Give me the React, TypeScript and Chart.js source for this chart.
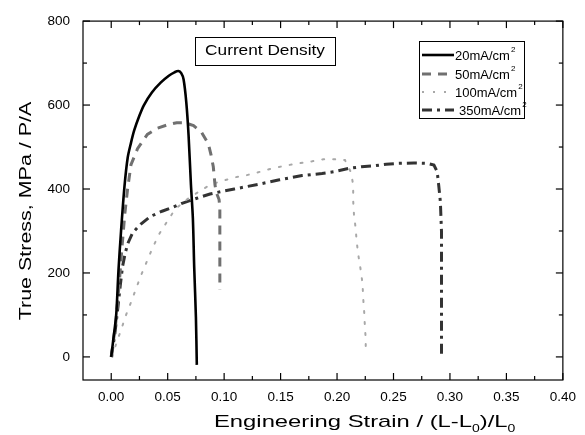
import React, { useEffect, useRef } from 'react';
import { Chart, registerables } from 'chart.js';

Chart.register(...registerables);

// ---- data ----
const strain20 = [0, 0.002, 0.0044, 0.0064, 0.0087, 0.0117, 0.0146, 0.0175, 0.0204, 0.025, 0.029, 0.036, 0.044, 0.051, 0.056, 0.0595, 0.062, 0.0641, 0.0665, 0.0685, 0.0706, 0.0723, 0.0735, 0.075, 0.0758];
const stress20 = [0, 45, 100, 205, 300, 405, 475, 510, 540, 575, 600, 630, 654, 670, 678, 681, 676, 661, 606, 528, 410, 331, 213, 95, -19];

const strain50 = [0, 0.004, 0.0073, 0.0095, 0.012, 0.0145, 0.0175, 0.0233, 0.032, 0.041, 0.05, 0.058, 0.065, 0.0729, 0.08, 0.086, 0.0885, 0.0904, 0.0919, 0.093, 0.0955, 0.0962, 0.0962];
const stress50 = [0, 80, 182, 260, 340, 400, 458, 496, 530, 545, 553, 558, 558, 551, 535, 508, 480, 453, 410, 392, 375, 355, 160];

const strain100 = [0.001, 0.0044, 0.0087, 0.013, 0.0175, 0.0219, 0.0262, 0.0315, 0.0365, 0.0423, 0.0496, 0.0569, 0.0685, 0.0785, 0.0875, 0.099, 0.11, 0.12, 0.129, 0.137, 0.146, 0.157, 0.166, 0.178, 0.188, 0.197, 0.207, 0.2123, 0.2143, 0.2143, 0.215, 0.2165, 0.2174, 0.219, 0.2209, 0.2226, 0.2231, 0.224, 0.2246, 0.2254, 0.2254];
const stress100 = [0, 32, 64, 99, 130, 162, 193, 227, 259, 292, 323, 353, 378, 395, 410, 420, 428, 433, 439, 445, 451, 457, 461, 466, 471, 471, 469, 440, 410, 372, 339, 306, 274, 240, 208, 174, 142, 109, 76, 42, 13];

const strain350 = [0, 0.003, 0.006, 0.008, 0.01, 0.0125, 0.015, 0.019, 0.026, 0.035, 0.045, 0.054, 0.0627, 0.0758, 0.0875, 0.099, 0.109, 0.13, 0.149, 0.169, 0.1867, 0.197, 0.21, 0.2216, 0.2318, 0.2435, 0.2537, 0.268, 0.28, 0.2858, 0.2887, 0.29, 0.2915, 0.2925, 0.2925];
const stress350 = [0, 50, 120, 170, 215, 249, 272, 296, 316, 335, 347, 356, 366, 378, 388, 395, 400, 411, 422, 432, 437, 441, 449, 453, 455, 459, 461, 462, 461, 457, 441, 410, 370, 300, 5];

const seriesLabels = ['20mA/cm', '50mA/cm', '100mA/cm', '350mA/cm'];
const xTickValues = [0, 0.05, 0.1, 0.15, 0.2, 0.25, 0.3, 0.35, 0.4];
const yTickValues = [0, 200, 400, 600, 800];
const xMinorTicks = [0.025, 0.075, 0.125, 0.175, 0.225, 0.275, 0.325, 0.375];
const yMinorTicks = [100, 300, 500, 700];

const FONT = '"Liberation Sans", Arial, sans-serif';

const styles = [
  { color: '#000000', width: 2.6, dash: [] as number[], tension: 0.3 },
  { color: '#707070', width: 3, dash: [9, 7], tension: 0 },
  { color: '#a8a8a8', width: 2, dash: [2, 9], tension: 0 },
  { color: '#333333', width: 3, dash: [10, 5, 3, 5], tension: 0 },
];

function pts(xs: number[], ys: number[]) {
  return xs.map((x, i) => ({ x, y: ys[i] }));
}

const decorPlugin = {
  id: 'decor',
  afterDraw(chart: any) {
    const ctx = chart.ctx as CanvasRenderingContext2D;
    const { left, right, top, bottom } = chart.chartArea;
    const xs = chart.scales.x;
    const ys = chart.scales.y;
    ctx.save();
    ctx.strokeStyle = '#000';
    ctx.lineWidth = 1.2;
    ctx.setLineDash([]);
    ctx.strokeRect(left, top, right - left, bottom - top);

    // inward ticks
    const tick = (x1: number, y1: number, x2: number, y2: number) => {
      ctx.beginPath();
      ctx.moveTo(x1, y1);
      ctx.lineTo(x2, y2);
      ctx.stroke();
    };
    const MAJ = 7, MIN = 4;
    xTickValues.forEach((v) => {
      const px = xs.getPixelForValue(v);
      tick(px, bottom, px, bottom - MAJ);
      tick(px, top, px, top + MAJ);
    });
    xMinorTicks.forEach((v) => {
      const px = xs.getPixelForValue(v);
      tick(px, bottom, px, bottom - MIN);
      tick(px, top, px, top + MIN);
    });
    yTickValues.forEach((v) => {
      const py = ys.getPixelForValue(v);
      tick(left, py, left + MAJ, py);
      tick(right, py, right - MAJ, py);
    });
    yMinorTicks.forEach((v) => {
      const py = ys.getPixelForValue(v);
      tick(left, py, left + MIN, py);
      tick(right, py, right - MIN, py);
    });

    // title box
    ctx.fillStyle = '#fff';
    ctx.fillRect(195, 37, 140, 28);
    ctx.lineWidth = 1;
    ctx.strokeRect(195.5, 37.5, 140, 28);
    ctx.fillStyle = '#000';
    ctx.save();
    ctx.translate(265, 51);
    ctx.scale(1.15, 1);
    ctx.font = `15px ${FONT}`;
    ctx.textAlign = 'center';
    ctx.textBaseline = 'middle';
    ctx.fillText('Current Density', 0, 0);
    ctx.restore();

    // legend box
    ctx.fillStyle = '#fff';
    ctx.fillRect(419, 41, 105, 77);
    ctx.strokeRect(419.5, 41.5, 105, 77);
    const rowsY = [55, 74, 92, 110];
    seriesLabels.forEach((lab, i) => {
      const s = styles[i];
      const y = rowsY[i];
      ctx.strokeStyle = s.color;
      ctx.lineWidth = s.width;
      ctx.setLineDash(s.dash);
      ctx.beginPath();
      ctx.moveTo(422, y);
      ctx.lineTo(454, y);
      ctx.stroke();
      ctx.setLineDash([]);
      ctx.fillStyle = '#000';
      ctx.font = `13px ${FONT}`;
      ctx.textAlign = 'left';
      ctx.textBaseline = 'middle';
      const tx = i === 3 ? 459 : 455;
      ctx.fillText(lab, tx, y + 1);
      const w = ctx.measureText(lab).width;
      ctx.font = `8px ${FONT}`;
      ctx.fillText('2', tx + w + 1, y - 5);
    });

    // x axis title (horizontally stretched like the source)
    ctx.fillStyle = '#000';
    ctx.save();
    ctx.translate(214, 427);
    ctx.scale(1.4, 1);
    ctx.textAlign = 'left';
    ctx.textBaseline = 'alphabetic';
    const parts: [string, boolean][] = [
      ['Engineering Strain / (L-L', false],
      ['0', true],
      [')/L', false],
      ['0', true],
    ];
    let cx = 0;
    parts.forEach(([t, sub]) => {
      ctx.font = sub ? `10px ${FONT}` : `17px ${FONT}`;
      ctx.fillText(t, cx, sub ? 5 : 0);
      cx += ctx.measureText(t).width;
    });
    ctx.restore();

    // y axis title
    ctx.save();
    ctx.translate(31, 211);
    ctx.rotate(-Math.PI / 2);
    ctx.scale(1.3, 1);
    ctx.font = `16.5px ${FONT}`;
    ctx.textAlign = 'center';
    ctx.textBaseline = 'alphabetic';
    ctx.fillText('True Stress, MPa / P/A', 0, 0);
    ctx.restore();

    ctx.restore();
  },
};

export default function App() {
  const ref = useRef<HTMLCanvasElement | null>(null);
  useEffect(() => {
    if (!ref.current) return;
    const data = [
      pts(strain20, stress20),
      pts(strain50, stress50),
      pts(strain100, stress100),
      pts(strain350, stress350),
    ];
    const chart = new Chart(ref.current, {
      type: 'scatter',
      data: {
        datasets: data.map((d, i) => ({
          label: seriesLabels[i],
          data: d,
          showLine: true,
          borderColor: styles[i].color,
          borderWidth: styles[i].width,
          borderDash: styles[i].dash,
          borderCapStyle: i === 2 ? 'round' : 'butt',
          pointRadius: 0,
          tension: styles[i].tension,
          fill: false,
        })) as any,
      },
      options: {
        animation: false,
        responsive: false,
        maintainAspectRatio: false,
        layout: { padding: { left: 0, right: 18, top: 18, bottom: 0 } },
        plugins: { legend: { display: false }, tooltip: { enabled: false }, title: { display: false } },
        scales: {
          x: {
            type: 'linear',
            min: -0.025,
            max: 0.4,
            afterBuildTicks: (s: any) => { s.ticks = xTickValues.map((v) => ({ value: v })); },
            afterFit: (s: any) => { s.height = 55; },
            grid: { display: false, drawTicks: false },
            border: { display: false },
            ticks: {
              padding: 9,
              color: '#000',
              font: { family: FONT, size: 13.5 },
              maxRotation: 0,
              callback: (v: any) => Number(v).toFixed(2),
            },
          },
          y: {
            type: 'linear',
            min: -55,
            max: 800,
            afterBuildTicks: (s: any) => { s.ticks = yTickValues.map((v) => ({ value: v })); },
            afterFit: (s: any) => { s.width = 83; },
            grid: { display: false, drawTicks: false },
            border: { display: false },
            ticks: {
              padding: 13,
              color: '#000',
              font: { family: FONT, size: 13.5 },
              callback: (v: any) => String(v),
            },
          },
        },
      },
      plugins: [decorPlugin],
    });
    return () => chart.destroy();
  }, []);
  return (
    <div style={{ position: 'fixed', left: 0, top: 0, width: 585, height: 435, background: '#fff' }}>
      <canvas ref={ref} width={585} height={435} style={{ width: 585, height: 435, display: 'block' }} />
    </div>
  );
}
